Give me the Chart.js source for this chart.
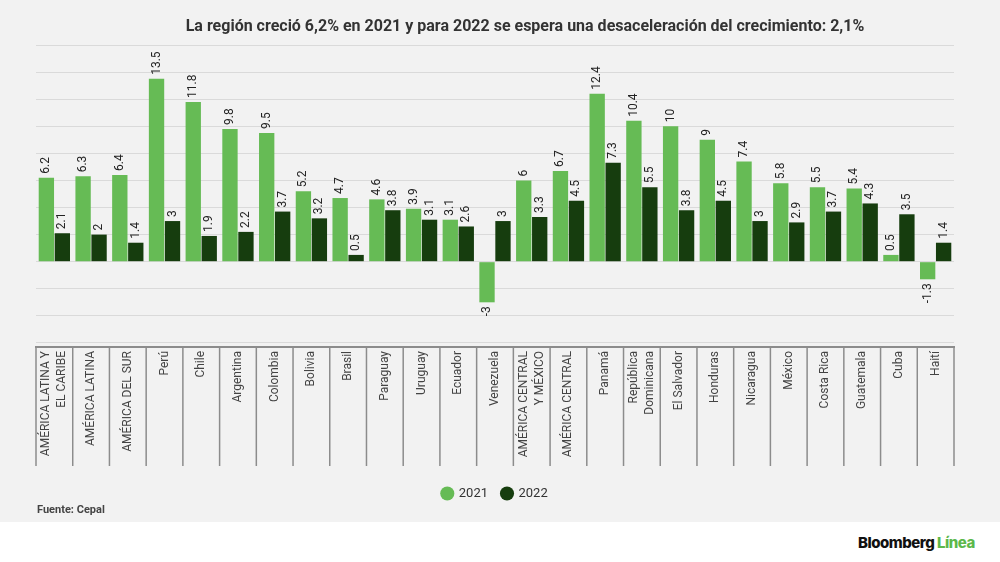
<!DOCTYPE html>
<html>
<head>
<meta charset="utf-8">
<script src="https://cdn.jsdelivr.net/npm/chart.js@4"></script>
<style>
  body { margin: 0; width: 1000px; height: 562px; background: #fff; font-family: Roboto, sans-serif; overflow: hidden; }
  #panel { position: absolute; left: 0; top: 0; width: 1000px; height: 522px; background: #f2f2f2; }
  #title { position: absolute; left: 50px; right: 0; top: 16px; text-align: center; font-weight: bold; font-size: 16px; color: #333; }
  #source { position: absolute; left: 37px; top: 503px; font-weight: bold; font-size: 11px; color: #444; }
  #logo { position: absolute; left: 858px; top: 533px; font-family: Inter, Roboto, sans-serif; font-weight: 800; font-size: 15px; letter-spacing: -0.5px; color: #111; }
  #logo span { color: #5cb84a; }
  #wrap { position: absolute; left: 0; top: 0; width: 1000px; height: 522px; }
</style>
</head>
<body>
<div id="panel"></div>
<div id="wrap"><canvas id="myChart"></canvas></div>
<div id="title">La región creció 6,2% en 2021 y para 2022 se espera una desaceleración del crecimiento: 2,1%</div>
<div id="source">Fuente: Cepal</div>
<div id="logo">Bloomberg <span>Línea</span></div>
<script>
// Data
const categories = [
    ['AMÉRICA LATINA Y', 'EL CARIBE'], 'AMÉRICA LATINA', 'AMÉRICA DEL SUR', 'Perú', 'Chile',
    'Argentina', 'Colombia', 'Bolivia', 'Brasil', 'Paraguay', 'Uruguay', 'Ecuador', 'Venezuela',
    ['AMÉRICA CENTRAL', 'Y MÉXICO'], 'AMÉRICA CENTRAL', 'Panamá', ['República', 'Dominicana'],
    'El Salvador', 'Honduras', 'Nicaragua', 'México', 'Costa Rica', 'Guatemala', 'Cuba', 'Haití'
];
const values2021 = [6.2, 6.3, 6.4, 13.5, 11.8, 9.8, 9.5, 5.2, 4.7, 4.6, 3.9, 3.1, -3, 6, 6.7, 12.4, 10.4, 10, 9, 7.4, 5.8, 5.5, 5.4, 0.5, -1.3];
const values2022 = [2.1, 2, 1.4, 3, 1.9, 2.2, 3.7, 3.2, 0.5, 3.8, 3.1, 2.6, 3, 3.3, 4.5, 7.3, 5.5, 3.8, 4.5, 3, 2.9, 3.7, 4.3, 3.5, 1.4];
const yTicks = [-6, -4, -2, 0, 2, 4, 6, 8, 10, 12, 14, 16];

// value labels, rotated, at the end of each bar
const valueLabels = {
    id: 'valueLabels',
    afterDatasetsDraw(chart) {
        const ctx = chart.ctx;
        ctx.save();
        ctx.font = '12px Roboto';
        ctx.fillStyle = '#222';
        ctx.textBaseline = 'middle';
        chart.data.datasets.forEach((ds, i) => {
            chart.getDatasetMeta(i).data.forEach((bar, j) => {
                const v = ds.data[j];
                ctx.save();
                if (v >= 0) {
                    ctx.translate(bar.x, bar.y - 4);
                    ctx.textAlign = 'left';
                } else {
                    ctx.translate(bar.x, bar.y + 4);
                    ctx.textAlign = 'right';
                }
                ctx.rotate(-Math.PI / 2);
                ctx.fillText(String(v), 0, 0);
                ctx.restore();
            });
        });
        ctx.restore();
    }
};

// category labels (rotated, hanging from the axis) and separators between them
const categoryAxis = {
    id: 'categoryAxis',
    afterDraw(chart) {
        const x = chart.scales.x;
        const ctx = chart.ctx;
        const half = (x.getPixelForValue(1) - x.getPixelForValue(0)) / 2;
        const top = chart.chartArea.bottom;
        ctx.save();
        ctx.strokeStyle = '#8c8c8c';
        ctx.lineWidth = 1.5;
        for (let i = 0; i <= categories.length; i++) {
            const px = x.getPixelForValue(0) - half + i * half * 2;
            ctx.beginPath();
            ctx.moveTo(px, top);
            ctx.lineTo(px, top + 119);
            ctx.stroke();
        }
        ctx.font = '12px Roboto';
        ctx.fillStyle = '#444';
        ctx.textAlign = 'right';
        ctx.textBaseline = 'middle';
        categories.forEach((c, i) => {
            const lines = Array.isArray(c) ? c : [c];
            const cx = x.getPixelForValue(i);
            lines.forEach((t, k) => {
                const off = (k - (lines.length - 1) / 2) * 16;
                ctx.save();
                ctx.translate(cx + off, top + 4);
                ctx.rotate(-Math.PI / 2);
                ctx.fillText(t, 0, 0);
                ctx.restore();
            });
        });
        ctx.restore();
    }
};

function initBarChart() {
    const ctx = document.getElementById('myChart').getContext('2d');
    new Chart(ctx, {
        type: 'bar',
        data: {
            labels: categories,
            datasets: [{
                label: '2021',
                data: values2021,
                backgroundColor: '#66bb55',
                borderWidth: 0
            }, {
                label: '2022',
                data: values2022,
                backgroundColor: '#163d0e',
                borderWidth: 0
            }]
        },
        options: {
            responsive: true,
            maintainAspectRatio: false,
            animation: false,
            datasets: { bar: { categoryPercentage: 0.87, barPercentage: 0.96 } },
            layout: { padding: { top: 45, left: 36, right: 46, bottom: 12 } },
            plugins: {
                title: { display: false },
                tooltip: { enabled: false },
                legend: {
                    position: 'bottom',
                    labels: {
                        usePointStyle: true,
                        pointStyle: 'circle',
                        boxWidth: 10,
                        boxHeight: 10,
                        padding: 14,
                        color: '#333',
                        font: { family: 'Roboto', size: 13 }
                    }
                }
            },
            scales: {
                y: {
                    min: -6.3,
                    max: 16,
                    afterBuildTicks: (s) => { s.ticks = yTicks.map(v => ({ value: v })); },
                    ticks: { display: false },
                    grid: { color: '#dadada', drawTicks: false },
                    border: { display: false }
                },
                x: {
                    grid: { display: false },
                    border: { display: true, color: '#8c8c8c', width: 2 },
                    afterFit: (s) => { s.height = 126; },
                    ticks: { display: false }
                }
            }
        },
        plugins: [valueLabels, categoryAxis]
    });
}

document.addEventListener('DOMContentLoaded', initBarChart);
</script>
</body>
</html>
